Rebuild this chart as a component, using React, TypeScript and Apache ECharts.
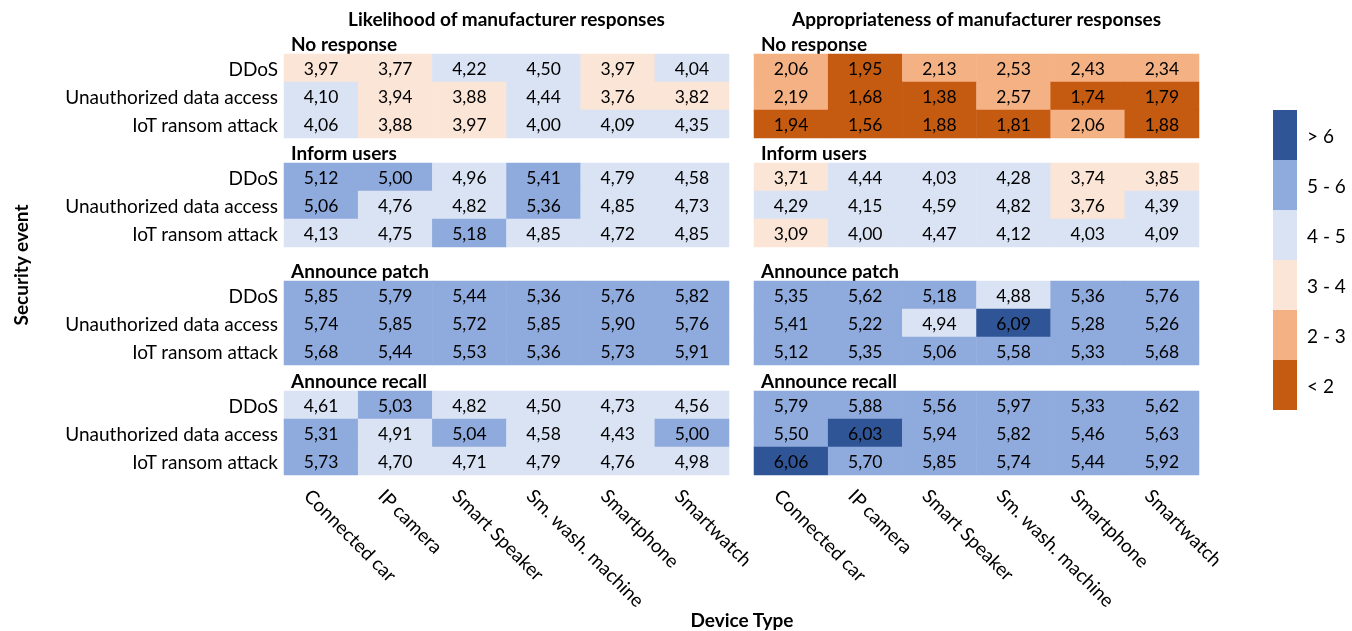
import React, { useEffect, useRef } from "react";
import * as echarts from "echarts";

const devices = ["Connected car", "IP camera", "Smart Speaker", "Sm. wash. machine", "Smartphone", "Smartwatch"];
const events = ["DDoS", "Unauthorized data access", "IoT ransom attack"];
const responses = ["No response", "Inform users", "Announce patch", "Announce recall"];
const panelTitles = ["Likelihood of manufacturer responses", "Appropriateness of manufacturer responses"];

// Likelihood: [event][device]
const likelihoodNoResponse = [
  [3.97, 3.77, 4.22, 4.5, 3.97, 4.04],
  [4.1, 3.94, 3.88, 4.44, 3.76, 3.82],
  [4.06, 3.88, 3.97, 4.0, 4.09, 4.35],
];
const likelihoodInform = [
  [5.12, 5.0, 4.96, 5.41, 4.79, 4.58],
  [5.06, 4.76, 4.82, 5.36, 4.85, 4.73],
  [4.13, 4.75, 5.18, 4.85, 4.72, 4.85],
];
const likelihoodPatch = [
  [5.85, 5.79, 5.44, 5.36, 5.76, 5.82],
  [5.74, 5.85, 5.72, 5.85, 5.9, 5.76],
  [5.68, 5.44, 5.53, 5.36, 5.73, 5.91],
];
const likelihoodRecall = [
  [4.61, 5.03, 4.82, 4.5, 4.73, 4.56],
  [5.31, 4.91, 5.04, 4.58, 4.43, 5.0],
  [5.73, 4.7, 4.71, 4.79, 4.76, 4.98],
];
// Appropriateness: [event][device]
const appropriatenessNoResponse = [
  [2.06, 1.95, 2.13, 2.53, 2.43, 2.34],
  [2.19, 1.68, 1.38, 2.57, 1.74, 1.79],
  [1.94, 1.56, 1.88, 1.81, 2.06, 1.88],
];
const appropriatenessInform = [
  [3.71, 4.44, 4.03, 4.28, 3.74, 3.85],
  [4.29, 4.15, 4.59, 4.82, 3.76, 4.39],
  [3.09, 4.0, 4.47, 4.12, 4.03, 4.09],
];
const appropriatenessPatch = [
  [5.35, 5.62, 5.18, 4.88, 5.36, 5.76],
  [5.41, 5.22, 4.94, 6.09, 5.28, 5.26],
  [5.12, 5.35, 5.06, 5.58, 5.33, 5.68],
];
const appropriatenessRecall = [
  [5.79, 5.88, 5.56, 5.97, 5.33, 5.62],
  [5.5, 6.03, 5.94, 5.82, 5.46, 5.63],
  [6.06, 5.7, 5.85, 5.74, 5.44, 5.92],
];

const legendPieces = [
  { lt: 2, label: "< 2", color: "#C55A11" },
  { gte: 2, lt: 3, label: "2 - 3", color: "#F4B183" },
  { gte: 3, lt: 4, label: "3 - 4", color: "#FBE5D6" },
  { gte: 4, lt: 5, label: "4 - 5", color: "#DAE3F3" },
  { gte: 5, lt: 6, label: "5 - 6", color: "#8FAADC" },
  { gte: 6, label: "> 6", color: "#2F5597" },
];

const panels = [
  [likelihoodNoResponse, likelihoodInform, likelihoodPatch, likelihoodRecall],
  [appropriatenessNoResponse, appropriatenessInform, appropriatenessPatch, appropriatenessRecall],
];

const FONT = "Lato";
const TEXT_SIZE = 19;
const NUM_SIZE = 17.5;

export default function App() {
  const ref = useRef<HTMLDivElement>(null);
  useEffect(() => {
    if (!ref.current) return;
    const chart = echarts.init(ref.current, null, { renderer: "svg" });
    const panelLeft = [284, 754];
    const panelWidth = 445;
    const blockTop = [54, 163, 281, 391];
    const blockHeight = 84;
    const yCats = [...events].reverse();

    const grids: any[] = [];
    const xAxes: any[] = [];
    const yAxes: any[] = [];
    const series: any[] = [];
    panels.forEach((blocks, p) => {
      blocks.forEach((rows, b) => {
        const gi = grids.length;
        grids.push({ left: panelLeft[p], top: blockTop[b], width: panelWidth, height: blockHeight });
        const isBottom = b === blocks.length - 1;
        xAxes.push({
          type: "category",
          gridIndex: gi,
          data: devices,
          show: isBottom,
          axisLine: { show: false },
          axisTick: { show: false },
          splitLine: { show: false },
          axisLabel: {
            show: isBottom,
            interval: 0,
            rotate: -45,
            color: "#000",
            fontFamily: FONT,
            fontSize: TEXT_SIZE,
            margin: 4,
            verticalAlign: "top",
            padding: [9, 0, 0, 0],
          },
        });
        yAxes.push({
          type: "category",
          gridIndex: gi,
          data: yCats,
          axisLine: { show: false },
          axisTick: { show: false },
          splitLine: { show: false },
          axisLabel: { show: p === 0, color: "#000", fontFamily: FONT, fontSize: TEXT_SIZE, margin: 6 },
          name: responses[b],
          nameLocation: "end",
          nameGap: 1,
          nameTextStyle: {
            color: "#000",
            fontFamily: FONT,
            fontSize: TEXT_SIZE,
            fontWeight: "bold",
            align: "left",
            padding: [0, 0, 0, 7],
          },
        });
        const data: any[] = [];
        rows.forEach((vals, e) => {
          vals.forEach((v, d) => {
            data.push([d, yCats.indexOf(events[e]), v]);
          });
        });
        series.push({
          type: "heatmap",
          xAxisIndex: gi,
          yAxisIndex: gi,
          data,
          label: {
            show: true,
            color: "#000",
            fontFamily: FONT,
            fontSize: NUM_SIZE,
            formatter: (prm: any) => prm.value[2].toFixed(2).replace(".", ","),
          },
          itemStyle: { borderWidth: 0 },
          emphasis: { disabled: true },
        });
      });
    });

    const titleStyle = { align: "center", verticalAlign: "middle", fontFamily: FONT, fontSize: TEXT_SIZE, fontWeight: "bold", fill: "#000" };
    const option: any = {
      animation: false,
      textStyle: { fontFamily: FONT },
      grid: grids,
      xAxis: xAxes,
      yAxis: yAxes,
      series,
      visualMap: {
        type: "piecewise",
        seriesIndex: series.map((_, i) => i),
        dimension: 2,
        pieces: legendPieces,
        orient: "vertical",
        align: "left",
        left: 1273,
        top: 110,
        padding: 0,
        itemWidth: 24,
        itemHeight: 50,
        itemGap: 0,
        itemSymbol: "rect",
        textGap: 10,
        hoverLink: false,
        selectedMode: false,
        textStyle: { color: "#000", fontFamily: FONT, fontSize: TEXT_SIZE, padding: [14, 0, 0, 0] },
      },
      graphic: [
        { type: "text", x: panelLeft[0] + panelWidth / 2, y: 18, style: { ...titleStyle, text: panelTitles[0] } },
        { type: "text", x: panelLeft[1] + panelWidth / 2, y: 18, style: { ...titleStyle, text: panelTitles[1] } },
        { type: "text", x: 20, y: 265, rotation: Math.PI / 2, style: { ...titleStyle, text: "Security event" } },
        { type: "text", x: 742, y: 619, style: { ...titleStyle, text: "Device Type" } },
      ],
    };
    chart.setOption(option);
    return () => chart.dispose();
  }, []);
  return <div ref={ref} style={{ position: "fixed", left: 0, top: 0, width: 1352, height: 631 }} />;
}
